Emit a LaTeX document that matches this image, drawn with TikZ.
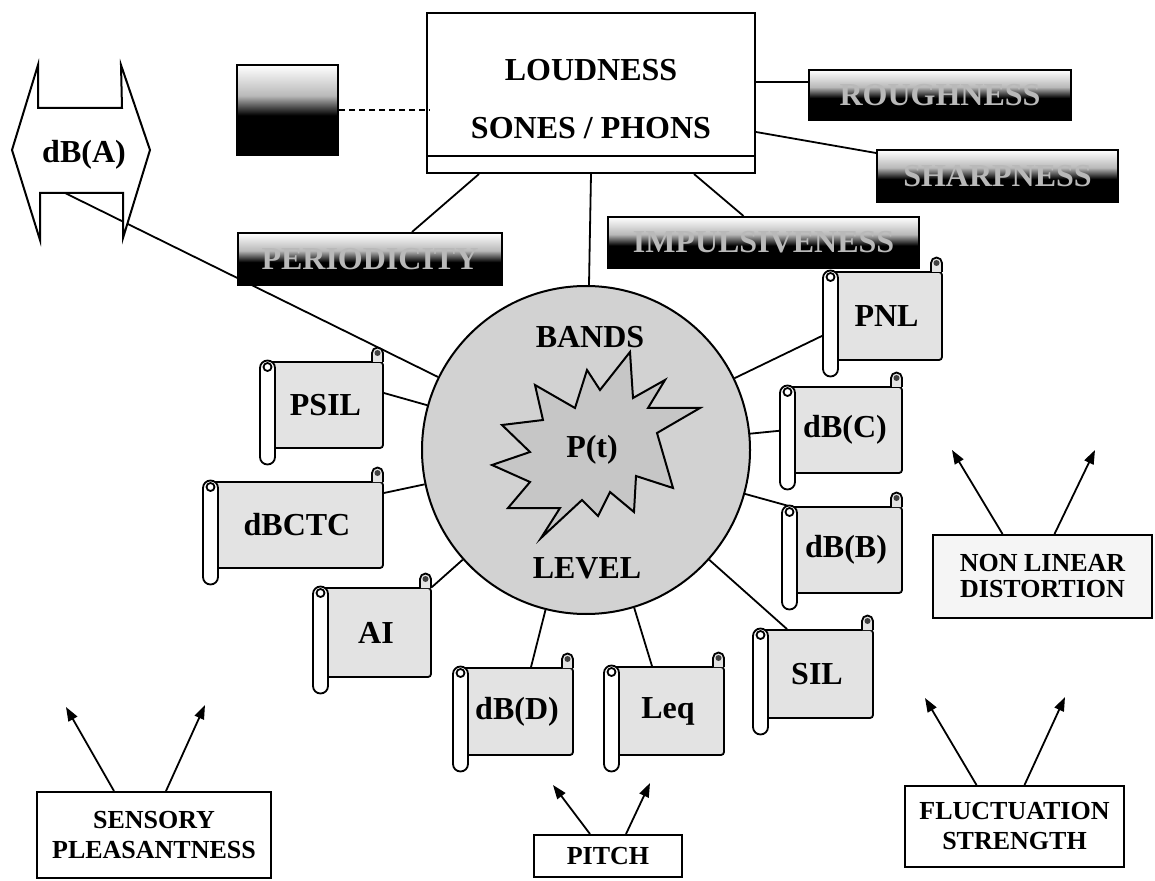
\documentclass[tikz,border=0pt]{standalone}
\usepackage{fontspec}
\setmainfont{Liberation Serif}
\usetikzlibrary{arrows.meta,backgrounds}
\colorlet{bargray}{gray!55}
\pgfdeclareverticalshading{darkbar}{100bp}{color(0bp)=(black); color(25bp)=(black); color(47bp)=(black); color(58bp)=(bargray); color(75bp)=(white); color(100bp)=(white)}

% scroll: name, roll left, top, right, bottom, text
\newcommand{\parchment}[6]{%
  \node[scrollbody, minimum width={(#4-#2-8)*0.5pt}, minimum height={(#5-#3)*0.5pt}] (#1) at ({(#2+8+#4)/2},{(#3+#5)/2}) {#6};
  \filldraw[scrolledge, fill=gray!22] ({#4-11},#3) -- ({#4-11},{#3-9}) arc (180:360:5.5) -- (#4,#3);
  \fill[black!75] ({#4-5.5},{#3-9}) circle (3);
  \filldraw[scrolledge, fill=white] (#2,{#3+6}) -- (#2,{#5+9}) arc (180:0:7.5) -- ({#2+15},{#3+6}) arc (0:-180:7.5) -- cycle;
  \draw[scrolledge] ({#2+7.5},{#3+5}) circle (4);
}

\begin{document}
\begin{tikzpicture}[x=0.5pt, y=-0.5pt,
  every node/.style={inner sep=0pt},
  lbl/.style={font=\fontsize{16}{18}\selectfont\bfseries},
  box/.style={draw, line width=1pt, fill=white, align=center, font=\fontsize{13}{15}\selectfont\bfseries},
  darkbox/.style={draw, line width=1pt, shade, shading=darkbar, text=bargray, font=\fontsize{16}{18}\selectfont\bfseries},
  scrollbody/.style={draw, line width=0.9pt, fill=gray!22, rounded corners=1.5pt, font=\fontsize{16}{18}\selectfont\bfseries},
  scrolledge/.style={line width=0.9pt},
  wire/.style={line width=0.9pt},
  pointer/.style={line width=0.9pt, -{Triangle[length=7pt, width=5pt]}}]
\useasboundingbox (0,0) rectangle (1155,881);

% centre: circle and burst
\node[draw, circle, line width=1pt, fill=gray!35, minimum size=164pt] (circ) at (586,450) {};
\filldraw[line width=1pt, fill=gray!45] (535,385) -- (575,408) -- (587,370) -- (600,390) -- (630,352) -- (633,398)
  -- (665,380) -- (648,408) -- (700,408) -- (657,433) -- (673,488) -- (636,476) -- (634,512) -- (610,492)
  -- (598,516) -- (582,500) -- (541,538) -- (560,508) -- (508,508) -- (530,482) -- (492,465) -- (530,452)
  -- (502,425) -- (543,420) -- cycle;
\node[lbl] (bands) at (590,337) {BANDS};
\node[lbl] (pt) at (592,450) {P(t)};
\node[lbl] (level) at (587,568) {LEVEL};

% loudness box
\node[draw, line width=1pt, fill=white, minimum width=164pt, minimum height=80pt] (loud) at (591,93) {};
\draw[line width=1pt] ([yshift=9pt]loud.south west) -- ([yshift=9pt]loud.south east);
\node[align=center, font=\fontsize{16}{29}\selectfont\bfseries] (loudtxt) at (591,99) {LOUDNESS\\SONES / PHONS};

% dark bars
\node[darkbox, minimum width=50.5pt, minimum height=45pt] (tone) at (287.5,110) {};
\node[darkbox, minimum width=131pt, minimum height=25pt] (rough) at (940,95) {ROUGHNESS};
\node[darkbox, minimum width=120.5pt, minimum height=26pt] (sharp) at (997.5,176) {SHARPNESS};
\node[darkbox, minimum width=155.5pt, minimum height=25.5pt] (impuls) at (763.5,242.5) {IMPULSIVENESS};
\node[darkbox, minimum width=132pt, minimum height=26pt] (period) at (370,259) {PERIODICITY};

\draw[densely dashed, line width=0.6pt] (tone.east) -- ([xshift=2pt]tone.east -| loud.west);
\draw[wire] ([yshift=6.5pt]rough.west) -- ([yshift=6.5pt]rough.west -| loud.east);
\draw[wire] ([yshift=-19.5pt]loud.east) -- ([yshift=-2pt]sharp.north west);
\draw[wire] ([xshift=51.5pt]loud.south) -- ([xshift=-10pt]impuls.north);
\draw[wire] ([xshift=-56pt]loud.south) -- ([xshift=21pt]period.north);
\draw[wire] (loud.south) -- (circ);

% dB(A) double arrow
\filldraw[line width=1pt, fill=white] (12,150) -- (38,65) -- (38,108) -- (122,108) -- (121,65) -- (150,150)
  -- (123,238) -- (123,193) -- (40,193) -- (40,240) -- cycle;
\node[lbl] (dba) at (84,155) {dB(A)};
\coordinate (dba-foot) at (65,193);

% scrolls
\foreach \nm/\rl/\tp/\rt/\bt/\txt in {psil/260/362/383/448/PSIL, dbctc/203/482/383/568/dBCTC,
    ai/313/588/431/677/AI, dbd/453/668/573/755/dB(D), leq/604/667/724/755/Leq,
    sil/753/630/873/718/SIL, dbb/782/507/902/593/dB(B), dbc/780/387/902/473/dB(C),
    pnl/823/272/942/360/PNL}
  {\parchment{\nm}{\rl}{\tp}{\rt}{\bt}{\txt}}

% measures to the circle
\begin{scope}[on background layer]
\draw[wire] (dba-foot) -- (circ);
\draw[wire] ([yshift=6pt]psil.east) -- (circ);
\draw[wire] ([yshift=16pt]dbctc.east) -- (circ);
\draw[wire] (ai.north east) -- (circ);
\draw[wire] ([xshift=7pt]dbd.north) -- (circ);
\draw[wire] ([xshift=-8pt]leq.north) -- (circ);
\draw[wire] ([xshift=-15pt]sil.north) -- (circ);
\draw[wire] (dbb.north west) -- (circ);
\draw[wire] (dbc.west) -- (circ);
\draw[wire] ([yshift=-8pt]pnl.west) -- (circ);
\end{scope}

% outer boxes with arrows
\node[box, fill=gray!8, minimum width=109.5pt, minimum height=41.5pt, font=\fontsize{13}{13}\selectfont\bfseries] (nonlin) at (1042.5,576.5) {NON LINEAR\\DISTORTION};
\node[box, minimum width=117pt, minimum height=43pt] (sens) at (154,835) {SENSORY\\PLEASANTNESS};
\node[box, minimum width=74pt, minimum height=21pt] (pitch) at (608,856) {PITCH};
\node[box, minimum width=109.5pt, minimum height=40.5pt] (fluct) at (1014.5,826.5) {FLUCTUATION\\STRENGTH};

\coordinate (nonlin-l) at (952,450);
\coordinate (nonlin-r) at (1095,450);
\coordinate (sens-l) at (66,707);
\coordinate (sens-r) at (205,705);
\coordinate (pitch-l) at (553,785);
\coordinate (pitch-r) at (650,783);
\coordinate (fluct-l) at (925,698);
\coordinate (fluct-r) at (1065,697);
\draw[pointer] ([xshift=-20pt]nonlin.north) -- (nonlin-l);
\draw[pointer] ([xshift=6pt]nonlin.north) -- (nonlin-r);
\draw[pointer] ([xshift=-20pt]sens.north) -- (sens-l);
\draw[pointer] ([xshift=6pt]sens.north) -- (sens-r);
\draw[pointer] ([xshift=-9pt]pitch.north) -- (pitch-l);
\draw[pointer] ([xshift=9pt]pitch.north) -- (pitch-r);
\draw[pointer] ([xshift=-19pt]fluct.north) -- (fluct-l);
\draw[pointer] ([xshift=5pt]fluct.north) -- (fluct-r);
\end{tikzpicture}
\end{document}
